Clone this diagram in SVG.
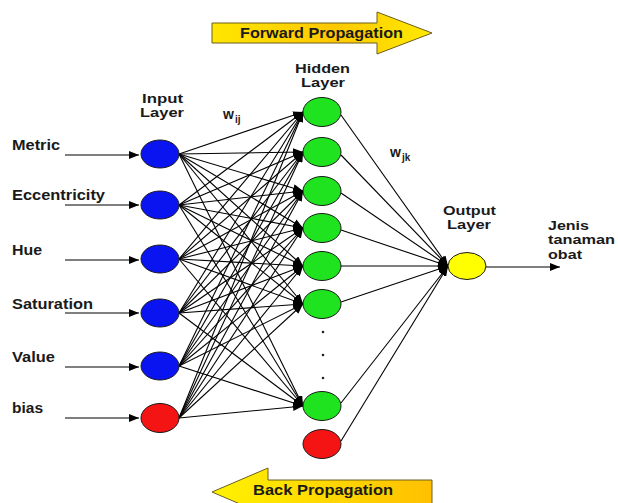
<svg xmlns="http://www.w3.org/2000/svg" width="618" height="503" viewBox="0 0 618 503">
<defs>
<marker id="ah" markerUnits="userSpaceOnUse" markerWidth="10" markerHeight="8" viewBox="0 0 10 8" refX="10" refY="4" orient="auto"><path d="M0,0 L10,4 L0,8 z" fill="#000"/></marker>
<linearGradient id="gf" x1="0" y1="0" x2="1" y2="0"><stop offset="0" stop-color="#FFE600"/><stop offset="0.55" stop-color="#FFC800"/><stop offset="1" stop-color="#FFEA00"/></linearGradient>
<linearGradient id="gb" x1="0" y1="0" x2="1" y2="0"><stop offset="0" stop-color="#FFF200"/><stop offset="0.6" stop-color="#FFD400"/><stop offset="1" stop-color="#FFC000"/></linearGradient>
</defs>
<style>
text{font-family:"Liberation Sans",Arial,sans-serif;font-weight:bold;font-size:14px;fill:#1a1a1a}
.t{font-size:12.5px}
.e line{stroke:#000;stroke-width:1.1;marker-end:url(#ah)}
.n ellipse{stroke:#1a1a1a;stroke-width:1}
.blue{fill:#0a14f0}
.green{fill:#1fe31f}
.red{fill:#f51414}
.yellow{fill:#ffff00}
.sub{font-size:10px}
</style>
<rect width="618" height="503" fill="#fff"/>

<g id="forward-arrow">
<path d="M212,23 H377 V12 L432,33 L377,54 V43 H212 Z" fill="url(#gf)" stroke="#6b5e1e" stroke-width="1"/>
<text x="240" y="38" textLength="163" lengthAdjust="spacingAndGlyphs">Forward Propagation</text>
</g>
<g id="back-arrow">
<path d="M432,480 H268 V468 L212,492 L268,516 V504 H432 Z" fill="url(#gb)" stroke="#6b5e1e" stroke-width="1"/>
<text x="253" y="495" textLength="140" lengthAdjust="spacingAndGlyphs">Back Propagation</text>
</g>

<g id="connectors" class="e">
<line x1="65" y1="155" x2="139" y2="155"/>
<line x1="65" y1="205" x2="139" y2="205"/>
<line x1="65" y1="260" x2="139" y2="260"/>
<line x1="65" y1="313" x2="139" y2="313"/>
<line x1="65" y1="367" x2="139" y2="367"/>
<line x1="65" y1="418" x2="139" y2="418"/>

<line x1="179" y1="154" x2="303" y2="112"/><line x1="179" y1="154" x2="303" y2="152"/><line x1="179" y1="154" x2="303" y2="191"/><line x1="179" y1="154" x2="303" y2="228"/><line x1="179" y1="154" x2="303" y2="266"/><line x1="179" y1="154" x2="303" y2="304"/><line x1="179" y1="154" x2="303" y2="406"/>
<line x1="179" y1="205" x2="303" y2="112"/><line x1="179" y1="205" x2="303" y2="152"/><line x1="179" y1="205" x2="303" y2="191"/><line x1="179" y1="205" x2="303" y2="228"/><line x1="179" y1="205" x2="303" y2="266"/><line x1="179" y1="205" x2="303" y2="304"/><line x1="179" y1="205" x2="303" y2="406"/>
<line x1="179" y1="259" x2="303" y2="112"/><line x1="179" y1="259" x2="303" y2="152"/><line x1="179" y1="259" x2="303" y2="191"/><line x1="179" y1="259" x2="303" y2="228"/><line x1="179" y1="259" x2="303" y2="266"/><line x1="179" y1="259" x2="303" y2="304"/><line x1="179" y1="259" x2="303" y2="406"/>
<line x1="179" y1="313" x2="303" y2="112"/><line x1="179" y1="313" x2="303" y2="152"/><line x1="179" y1="313" x2="303" y2="191"/><line x1="179" y1="313" x2="303" y2="228"/><line x1="179" y1="313" x2="303" y2="266"/><line x1="179" y1="313" x2="303" y2="304"/><line x1="179" y1="313" x2="303" y2="406"/>
<line x1="179" y1="366" x2="303" y2="112"/><line x1="179" y1="366" x2="303" y2="152"/><line x1="179" y1="366" x2="303" y2="191"/><line x1="179" y1="366" x2="303" y2="228"/><line x1="179" y1="366" x2="303" y2="266"/><line x1="179" y1="366" x2="303" y2="304"/><line x1="179" y1="366" x2="303" y2="406"/>
<line x1="179" y1="418" x2="303" y2="112"/><line x1="179" y1="418" x2="303" y2="152"/><line x1="179" y1="418" x2="303" y2="191"/><line x1="179" y1="418" x2="303" y2="228"/><line x1="179" y1="418" x2="303" y2="266"/><line x1="179" y1="418" x2="303" y2="304"/><line x1="179" y1="418" x2="303" y2="406"/>

<line x1="341" y1="115" x2="448" y2="266"/>
<line x1="341" y1="155" x2="448" y2="266"/>
<line x1="341" y1="193" x2="448" y2="266"/>
<line x1="341" y1="230" x2="448" y2="266"/>
<line x1="341" y1="266" x2="448" y2="266"/>
<line x1="341" y1="302" x2="448" y2="266"/>
<line x1="341" y1="403" x2="448" y2="266"/>
<line x1="341" y1="441" x2="448" y2="266"/>

<line x1="486" y1="267" x2="560" y2="267"/>
</g>

<g id="input-labels">
<text x="12" y="150" textLength="48" lengthAdjust="spacingAndGlyphs">Metric</text>
<text x="12" y="200" textLength="93" lengthAdjust="spacingAndGlyphs">Eccentricity</text>
<text x="12" y="255" textLength="30" lengthAdjust="spacingAndGlyphs">Hue</text>
<text x="12" y="309" textLength="81" lengthAdjust="spacingAndGlyphs">Saturation</text>
<text x="12" y="362" textLength="43" lengthAdjust="spacingAndGlyphs">Value</text>
<text x="12" y="413" textLength="31" lengthAdjust="spacingAndGlyphs">bias</text>
</g>

<g id="input-layer-title">
<text class="t" x="142" y="102.5" textLength="41" lengthAdjust="spacingAndGlyphs">Input</text>
<text class="t" x="140" y="117" textLength="44" lengthAdjust="spacingAndGlyphs">Layer</text>
</g>
<g id="hidden-layer-title">
<text class="t" x="295" y="72.5" textLength="55" lengthAdjust="spacingAndGlyphs">Hidden</text>
<text class="t" x="301" y="87" textLength="44" lengthAdjust="spacingAndGlyphs">Layer</text>
</g>
<g id="output-layer-title">
<text class="t" x="443" y="214.5" textLength="53" lengthAdjust="spacingAndGlyphs">Output</text>
<text class="t" x="447" y="229" textLength="44" lengthAdjust="spacingAndGlyphs">Layer</text>
</g>
<g id="output-label">
<text class="t" x="548" y="229.5" textLength="41" lengthAdjust="spacingAndGlyphs">Jenis</text>
<text class="t" x="548" y="244" textLength="67" lengthAdjust="spacingAndGlyphs">tanaman</text>
<text class="t" x="548" y="258.5" textLength="34" lengthAdjust="spacingAndGlyphs">obat</text>
</g>
<g id="weight-ij"><text x="223" y="119" font-size="15">w</text><text class="sub" x="235" y="123">ij</text></g>
<g id="weight-jk"><text x="390" y="157" font-size="15">w</text><text class="sub" x="402" y="161">jk</text></g>

<g id="input-nodes" class="n">
<g id="in1"><ellipse class="blue" cx="160" cy="154" rx="19" ry="14"/></g>
<g id="in2"><ellipse class="blue" cx="160" cy="205" rx="19" ry="14"/></g>
<g id="in3"><ellipse class="blue" cx="160" cy="259" rx="19" ry="14"/></g>
<g id="in4"><ellipse class="blue" cx="160" cy="313" rx="19" ry="14"/></g>
<g id="in5"><ellipse class="blue" cx="160" cy="366" rx="19" ry="14"/></g>
<g id="in-bias"><ellipse class="red" cx="160" cy="418" rx="19" ry="14.5"/></g>
</g>
<g id="hidden-nodes" class="n">
<g id="h1"><ellipse class="green" cx="322" cy="112" rx="19" ry="14.5"/></g>
<g id="h2"><ellipse class="green" cx="322" cy="152" rx="19" ry="14.5"/></g>
<g id="h3"><ellipse class="green" cx="322" cy="191" rx="19" ry="14.5"/></g>
<g id="h4"><ellipse class="green" cx="322" cy="228" rx="19" ry="14.5"/></g>
<g id="h5"><ellipse class="green" cx="322" cy="266" rx="19" ry="14.5"/></g>
<g id="h6"><ellipse class="green" cx="322" cy="304" rx="19" ry="14.5"/></g>
<g id="h-dots"><circle cx="323" cy="332" r="1.3" fill="#222"/><circle cx="323" cy="355" r="1.3" fill="#222"/><circle cx="323" cy="378" r="1.3" fill="#222"/></g>
<g id="h7"><ellipse class="green" cx="322" cy="406" rx="19" ry="14.5"/></g>
<g id="h-bias"><ellipse class="red" cx="322" cy="444" rx="19" ry="14.5"/></g>
</g>
<g id="output-node" class="n"><ellipse class="yellow" cx="467" cy="266" rx="19" ry="13.5"/></g>
</svg>
